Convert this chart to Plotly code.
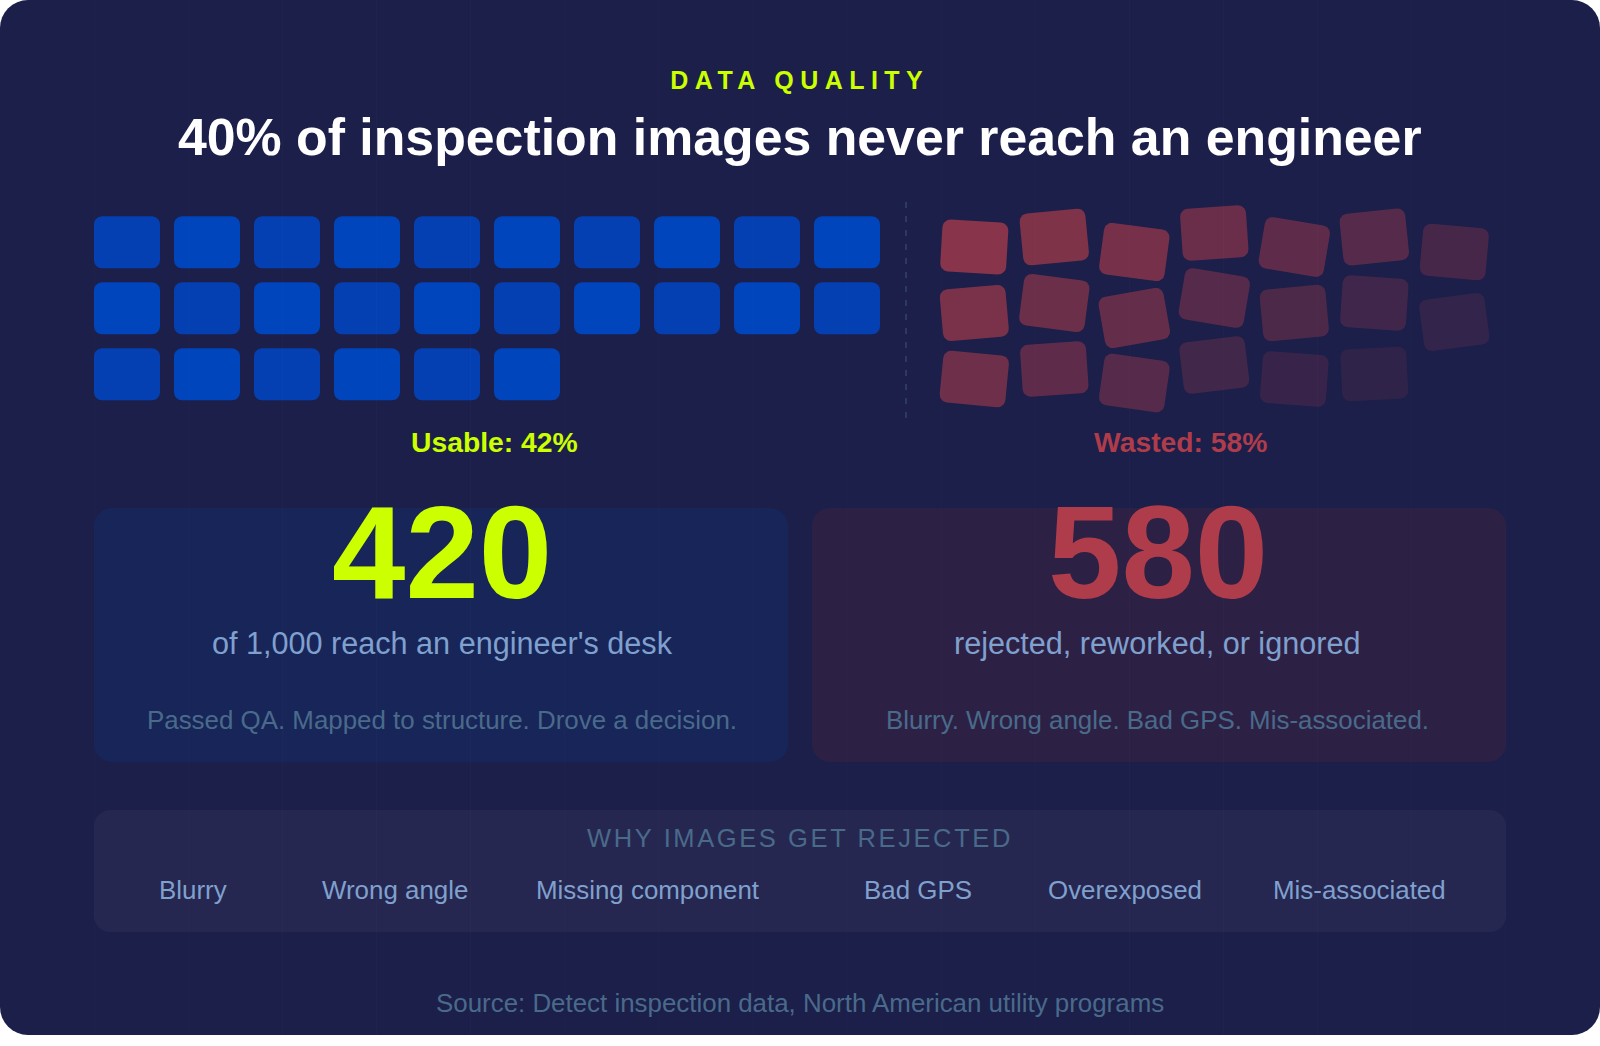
import math

import plotly.graph_objects as go

# --- content -----------------------------------------------------------------
eyebrow = "DATA QUALITY"
title = "40% of inspection images never reach an engineer"
usable_label = "Usable: 42%"
wasted_label = "Wasted: 58%"
usable_count = 420
wasted_count = 580
usable_sub = "of 1,000 reach an engineer's desk"
wasted_sub = "rejected, reworked, or ignored"
usable_note = "Passed QA. Mapped to structure. Drove a decision."
wasted_note = "Blurry. Wrong angle. Bad GPS. Mis-associated."
reasons_title = "WHY IMAGES GET REJECTED"
reasons = ["Blurry", "Wrong angle", "Missing component", "Bad GPS", "Overexposed", "Mis-associated"]
reason_x = [193, 395, 647, 918, 1124.5, 1359.5]
source = "Source: Detect inspection data, North American utility programs"

# waffle cells per row
usable_cells = [10, 10, 6]
wasted_cells = [7, 7, 6]

# scattered look of the wasted cells, row by row
wasted_tilt = [
    [3.4, -5.6, 7.7, -3.9, 9.6, -5.9, 5.2],
    [-5.0, 7.4, -10.0, 9.6, -5.3, 3.9, -7.4],
    [5.5, -3.9, 8.2, -6.9, 4.3, -2.9],
]
wasted_drop = [
    [5, -5, 10, -9, 5, -5, 10],
    [5, -5, 10, -10, 5, -5, 14],
    [5, -5, 9, -9, 5, 0],
]
wasted_fade = [
    [0.74, 0.68, 0.62, 0.54, 0.46, 0.40, 0.30],
    [0.65, 0.55, 0.50, 0.40, 0.34, 0.25, 0.16],
    [0.57, 0.46, 0.40, 0.26, 0.20, 0.15],
]

LIME = "#CCFF00"
RED = "#AE3C4A"
BLUE_LIGHT = "#0045BC"
BLUE_DARK = "#0540B2"
BG = "#1B1F4A"
SOFT = "#80A0CE"
DIM = "#4A6A8A"
FONT = "Liberation Sans"

CELL_W, CELL_H, CELL_R = 66, 52, 8
PITCH_X, PITCH_Y = 80, 66


def rounded_outline(cx, cy, w, h, r, angle=0):
    # outline of a rounded rectangle, turned around its centre
    xs, ys = [], []
    corners = [(w / 2 - r, -h / 2 + r, -90), (w / 2 - r, h / 2 - r, 0),
               (-w / 2 + r, h / 2 - r, 90), (-w / 2 + r, -h / 2 + r, 180)]
    a = math.radians(angle)
    for ox, oy, start in corners:
        for i in range(9):
            t = math.radians(start + i * 90 / 8)
            px, py = ox + r * math.cos(t), oy + r * math.sin(t)
            xs.append(cx + px * math.cos(a) - py * math.sin(a))
            ys.append(cy + px * math.sin(a) + py * math.cos(a))
    xs.append(xs[0])
    ys.append(ys[0])
    return xs, ys


def rgba(hex_color, alpha):
    h = hex_color.lstrip("#")
    return "rgba(%d,%d,%d,%.3f)" % (int(h[:2], 16), int(h[2:4], 16), int(h[4:], 16), alpha)


def add_cell(fig, cx, cy, color, angle=0):
    xs, ys = rounded_outline(cx, cy, CELL_W, CELL_H, CELL_R, angle)
    fig.add_trace(go.Scatter(x=xs, y=ys, mode="lines", fill="toself", fillcolor=color,
                             line=dict(width=0), hoverinfo="skip", showlegend=False))


def add_panel(fig, x0, y0, x1, y1, r, color, layer="below"):
    xs, ys = rounded_outline((x0 + x1) / 2, (y0 + y1) / 2, x1 - x0, y1 - y0, r)
    path = "M " + " L ".join("%.2f,%.2f" % p for p in zip(xs, ys)) + " Z"
    fig.add_shape(type="path", path=path, xref="x", yref="y", fillcolor=color,
                  line_width=0, layer=layer)


def add_text(fig, x, baseline, text, size, color, bold=False):
    # annotation boxes are centred, so go from baseline to box middle
    fig.add_annotation(x=x, y=baseline - 0.3465 * size, text=text, showarrow=False,
                       xanchor="center", yanchor="middle", xref="x", yref="y",
                       font=dict(family=FONT, size=size, color=color,
                                 weight="bold" if bold else "normal"))


fig = go.Figure()

# card and panels
add_panel(fig, 0, 0, 1600, 1035, 28, BG)
add_panel(fig, 94, 508, 788, 762, 18, "#172559")
add_panel(fig, 812, 508, 1506, 762, 18, "#2C2145")
add_panel(fig, 94, 810, 1506, 932, 16, "#252750")

# usable cells
for row, n in enumerate(usable_cells):
    for col in range(n):
        color = BLUE_DARK if (row + col) % 2 == 0 else BLUE_LIGHT
        add_cell(fig, 127 + col * PITCH_X, 242.3 + row * PITCH_Y, color)

# wasted cells
for row, n in enumerate(wasted_cells):
    for col in range(n):
        add_cell(fig, 974.3 + col * PITCH_X, 242 + row * PITCH_Y + wasted_drop[row][col],
                 rgba(RED, wasted_fade[row][col]), wasted_tilt[row][col])

# divider
fig.add_shape(type="line", x0=906, x1=906, y0=202, y1=418, xref="x", yref="y",
              line=dict(color="#2B3A63", width=2, dash="6px,8px"))

# faint vertical rules over the whole card
for i in range(1, 17):
    fig.add_shape(type="line", x0=i * 1600 / 17, x1=i * 1600 / 17, y0=0, y1=1035,
                  xref="x", yref="y", layer="above",
                  line=dict(color="rgba(255,255,255,0.02)", width=1))

# texts
add_text(fig, 800, 89, eyebrow, 25, LIME, bold=True)
add_text(fig, 799.5, 155, title, 51.8, "#FFFFFF", bold=True)
add_text(fig, 494, 451.7, usable_label, 28.3, LIME, bold=True)
add_text(fig, 1181, 451.7, wasted_label, 28.3, RED, bold=True)
add_text(fig, 442, 598, str(usable_count), 132, LIME, bold=True)
add_text(fig, 1157.5, 598, str(wasted_count), 132, RED, bold=True)
add_text(fig, 442, 654, usable_sub, 30.6, SOFT)
add_text(fig, 1157, 654, wasted_sub, 30.6, SOFT)
add_text(fig, 442, 729, usable_note, 25.9, DIM)
add_text(fig, 1157, 729, wasted_note, 25.9, DIM)
add_text(fig, 800, 846.7, reasons_title, 25.5, DIM)
for x, reason in zip(reason_x, reasons):
    add_text(fig, x, 898.7, reason, 25.9, SOFT)
add_text(fig, 800, 1012, source, 25.9, DIM)

fig.update_xaxes(range=[0, 1600], visible=False, fixedrange=True)
fig.update_yaxes(range=[1046, 0], visible=False, fixedrange=True)
fig.update_layout(width=1600, height=1046, margin=dict(l=0, r=0, t=0, b=0),
                  paper_bgcolor="#FFFFFF", plot_bgcolor="rgba(0,0,0,0)", showlegend=False)

# letter spacing is not an annotation option, page script sets it
post_script = """
document.body.style.margin = '0';
document.body.style.overflow = 'hidden';
var spacing = {'%s': '6.45px', '%s': '2.6px'};
document.querySelectorAll('.annotation-text').forEach(function (t) {
    var s = spacing[t.textContent];
    if (s) { t.style.letterSpacing = s; }
});
""" % (eyebrow, reasons_title)

fig.write_html("out.html", post_script=post_script, config={"displayModeBar": False})
